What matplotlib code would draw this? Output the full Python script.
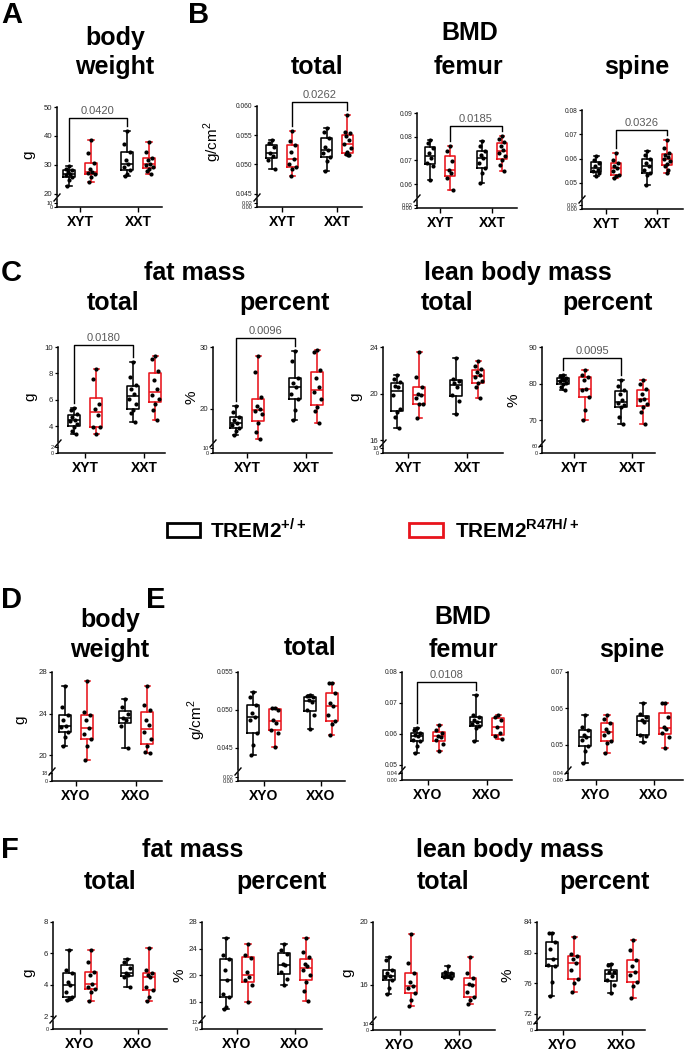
import matplotlib
matplotlib.use('Agg')
import matplotlib.pyplot as plt
from matplotlib.patches import Rectangle
from matplotlib.lines import Line2D

plt.rcParams['font.family'] = ['Liberation Sans', 'DejaVu Sans']
plt.rcParams['mathtext.fontset'] = 'custom'
plt.rcParams['mathtext.rm'] = 'Liberation Sans'
plt.rcParams['mathtext.bf'] = 'Liberation Sans:bold'

# group order in every list: XY TREM2+/+, XY R47H/+, XX TREM2+/+, XX R47H/+
young_groups = ['XYT', 'XXT']
old_groups = ['XYO', 'XXO']

young_body_weight = [
    [29.7, 28.7, 28.2, 27.6, 27.0, 26.4, 25.9, 24.7, 22.8],
    [38.7, 34.1, 30.7, 28.5, 27.6, 27.2, 26.8, 25.9, 24.1],
    [41.6, 37.4, 34.5, 31.6, 30.5, 29.3, 28.2, 27.0, 26.1],
    [37.9, 34.5, 32.5, 31.6, 30.5, 29.9, 29.3, 28.7, 27.9, 27.0]]
young_bmd_total = [
    [0.0541, 0.0537, 0.0530, 0.0520, 0.0515, 0.0508, 0.0492],
    [0.0557, 0.0540, 0.0533, 0.0522, 0.0510, 0.0500, 0.0495, 0.0492, 0.0480],
    [0.0562, 0.0555, 0.0545, 0.0530, 0.0525, 0.0520, 0.0512, 0.0506, 0.0488],
    [0.0585, 0.0555, 0.0553, 0.0548, 0.0542, 0.0535, 0.0528, 0.0522, 0.0518, 0.0517, 0.0516]]
young_bmd_femur = [
    [0.0787, 0.0773, 0.0752, 0.0731, 0.0710, 0.0689, 0.0675, 0.0618],
    [0.0759, 0.0738, 0.0696, 0.0661, 0.0646, 0.0625, 0.0576],
    [0.0780, 0.0759, 0.0738, 0.0724, 0.0710, 0.0689, 0.0668, 0.0646, 0.0604],
    [0.0801, 0.0790, 0.0776, 0.0759, 0.0745, 0.0731, 0.0717, 0.0703, 0.0682, 0.0654]]
young_bmd_spine = [
    [0.0609, 0.0595, 0.0582, 0.0568, 0.0554, 0.0548, 0.0541, 0.0527],
    [0.0625, 0.0595, 0.0582, 0.0568, 0.0561, 0.0548, 0.0534, 0.0527, 0.0520],
    [0.0632, 0.0616, 0.0598, 0.0582, 0.0571, 0.0554, 0.0541, 0.0534, 0.0493],
    [0.0675, 0.0643, 0.0625, 0.0616, 0.0606, 0.0598, 0.0589, 0.0579, 0.0568, 0.0554, 0.0541]]
young_fat_total = [
    [5.39, 5.19, 4.94, 4.68, 4.48, 4.38, 4.18, 3.92, 3.67, 3.42],
    [8.35, 7.59, 5.65, 5.32, 4.81, 3.97, 3.92, 3.42],
    [8.86, 7.72, 7.09, 6.84, 6.46, 6.08, 5.70, 5.19, 4.99, 4.30],
    [9.29, 9.11, 8.18, 7.47, 6.84, 6.33, 6.08, 5.70, 5.24, 4.43]]
young_fat_pct = [
    [20.4, 19.5, 18.6, 18.1, 17.7, 17.3, 16.8, 16.4, 15.7],
    [28.6, 25.9, 21.9, 20.5, 20.0, 19.7, 19.2, 17.6, 16.2, 15.1],
    [29.4, 27.8, 25.0, 24.1, 23.5, 22.4, 21.6, 19.8, 18.1],
    [29.5, 29.2, 26.3, 24.9, 23.5, 22.7, 21.6, 20.3, 19.6, 17.7]]
young_lean_total = [
    [21.6, 21.3, 21.0, 20.7, 20.6, 19.9, 18.7, 18.4, 18.0, 17.1],
    [23.6, 21.4, 20.6, 20.0, 19.9, 19.6, 19.1, 19.1, 17.9],
    [23.1, 21.3, 21.1, 20.9, 20.6, 19.9, 19.4, 18.3],
    [22.8, 22.4, 22.1, 21.9, 21.6, 21.4, 21.1, 20.9, 20.6, 19.6]]
young_lean_pct = [
    [82.5, 82.0, 81.6, 81.2, 80.9, 80.6, 80.2, 79.8, 79.1, 78.4],
    [83.6, 82.3, 81.8, 80.9, 78.6, 78.2, 76.4, 72.7, 70.0],
    [80.9, 79.5, 78.2, 77.3, 75.5, 74.7, 74.1, 73.6, 70.9, 69.1],
    [80.9, 80.0, 78.6, 77.3, 75.9, 75.5, 74.5, 73.6, 72.3, 69.1]]

old_body_weight = [
    [26.7, 24.6, 23.9, 23.4, 22.8, 22.7, 22.2, 21.8, 20.9],
    [27.1, 24.2, 23.9, 23.4, 22.6, 22.1, 21.6, 20.9, 19.6],
    [25.4, 24.6, 24.0, 23.6, 23.4, 22.8, 20.7],
    [26.7, 24.8, 24.4, 23.4, 22.9, 22.2, 21.6, 20.9, 20.3, 20.2]]
old_bmd_total = [
    [0.0524, 0.0517, 0.0507, 0.0496, 0.0491, 0.0487, 0.0470, 0.0454, 0.0441],
    [0.0503, 0.0503, 0.0500, 0.0487, 0.0483, 0.0474, 0.0470, 0.0451],
    [0.0520, 0.0519, 0.0517, 0.0513, 0.0511, 0.0500, 0.0493, 0.0475],
    [0.0536, 0.0535, 0.0522, 0.0509, 0.0505, 0.0493, 0.0485, 0.0482, 0.0467]]
old_bmd_femur = [
    [0.0619, 0.0614, 0.0603, 0.0598, 0.0593, 0.0582, 0.0577, 0.0561, 0.0539],
    [0.0630, 0.0614, 0.0603, 0.0595, 0.0590, 0.0582, 0.0569, 0.0545],
    [0.0726, 0.0662, 0.0654, 0.0646, 0.0640, 0.0633, 0.0627, 0.0619, 0.0577],
    [0.0662, 0.0656, 0.0646, 0.0624, 0.0603, 0.0593, 0.0584]]
old_bmd_spine = [
    [0.0582, 0.0550, 0.0541, 0.0527, 0.0523, 0.0514, 0.0497, 0.0482, 0.0450],
    [0.0582, 0.0570, 0.0559, 0.0545, 0.0536, 0.0527, 0.0512, 0.0505, 0.0477],
    [0.0615, 0.0585, 0.0577, 0.0568, 0.0564, 0.0527, 0.0525, 0.0509],
    [0.0615, 0.0614, 0.0577, 0.0550, 0.0545, 0.0532, 0.0521, 0.0491]]
old_fat_total = [
    [6.25, 4.95, 4.74, 4.21, 4.00, 3.58, 3.26, 3.09, 3.05],
    [6.21, 5.47, 4.84, 4.63, 4.06, 3.89, 3.73, 3.58, 3.01],
    [5.62, 5.47, 5.05, 4.74, 4.63, 4.48, 3.89],
    [6.32, 4.95, 4.74, 4.63, 4.53, 3.89, 3.68, 3.26, 3.01]]
old_fat_pct = [
    [25.65, 23.0, 22.5, 20.85, 19.35, 17.25, 16.75, 15.25, 15.0],
    [24.75, 23.0, 22.65, 20.5, 19.75, 19.25, 18.5, 16.0],
    [24.75, 23.85, 23.25, 21.65, 21.5, 20.5, 19.5, 18.5],
    [25.65, 23.5, 22.75, 21.75, 21.35, 20.75, 20.0, 19.0, 17.65, 16.15]]
old_lean_total = [
    [17.75, 17.58, 16.95, 16.74, 16.57, 16.48, 16.32, 15.79, 15.43],
    [19.22, 17.37, 16.74, 16.21, 15.94, 15.79, 15.47, 15.05, 14.67],
    [17.2, 16.84, 16.74, 16.63, 16.57, 16.48, 16.42],
    [17.79, 16.74, 16.42, 16.06, 16.0, 15.58, 15.26, 15.05, 14.8]]
old_lean_pct = [
    [82.6, 82.5, 81.4, 80.5, 79.2, 78.4, 78.2, 76.2, 74.3],
    [82.0, 79.8, 79.5, 79.1, 78.6, 77.7, 76.6, 76.0, 74.9],
    [78.5, 78.4, 77.5, 77.4, 76.9, 76.4, 75.8, 74.7],
    [81.6, 80.3, 79.0, 78.2, 77.5, 77.1, 76.2, 75.6, 74.0]]

W, H = 684, 1050
RED = '#e8141c'
fig = plt.figure(figsize=(W / 100, H / 100), dpi=100, facecolor='white')


def fx(x):
    return x / W


def fy(y):
    return 1 - y / H


def panel(box, groups, data, ylim, ticks, fmt, low, low_ticks, low_fmt,
          ylabel=None, ylabel_xy=None, bracket=None):
    # box: y-axis x, x-axis end, group centres, y of top tick, y of x-axis (pixels)
    x0, x1, t1, t2, ytop, ybot = box
    u = t2 - t1
    xl, xr = 1 - (t1 - x0) / u, 2 + (x1 - t2) / u
    ymb = ybot - 11
    lo, hi = ylim

    ax = fig.add_axes([fx(x0), fy(ymb), (x1 - x0) / W, (ymb - ytop) / H])
    ax.set_xlim(xl, xr)
    ax.set_ylim(lo, hi)
    ax.patch.set_alpha(0)
    for s in ['top', 'right', 'bottom']:
        ax.spines[s].set_visible(False)
    ax.spines['left'].set_linewidth(1.1)
    ax.set_xticks([])
    ax.set_yticks(ticks)
    ax.set_yticklabels([fmt % t for t in ticks])
    ax.tick_params(axis='y', length=2.5, width=0.9,
                   labelsize=5.6 if fmt == '%d' else 4.8, pad=1,
                   labelcolor='#222222')

    pos = [1 - 0.19, 1 + 0.19, 2 - 0.19, 2 + 0.19]
    cols = ['black', RED, 'black', RED]
    offs = [0, -0.05, 0.05, -0.025, 0.025, -0.06, 0.06, 0.0, -0.035, 0.035, 0.01]
    for d, p, c in zip(data, pos, cols):
        lp = dict(color=c, linewidth=1.15)
        ax.boxplot([d], positions=[p], widths=0.2, whis=(0, 100),
                   showfliers=False, manage_ticks=False, capwidths=0.09,
                   boxprops=lp, whiskerprops=lp, capprops=lp, medianprops=lp)
        srt = sorted(d, reverse=True)
        ax.scatter([p + offs[i % len(offs)] for i in range(len(srt))], srt,
                   s=9, color='black', zorder=4, clip_on=False, linewidths=0)

    if bracket:
        i, j, yb, label = bracket
        gap = 5 * (hi - lo) / (ymb - ytop)
        ax.plot([pos[i], pos[i], pos[j], pos[j]],
                [max(data[i]) + gap, yb, yb, max(data[j]) + gap],
                color='black', linewidth=1.0, clip_on=False)
        ax.annotate(label, ((pos[i] + pos[j]) / 2, yb), xytext=(0, 1.5),
                    textcoords='offset points', ha='center', va='bottom',
                    fontsize=8, color='#5a5a5a', annotation_clip=False)

    # compressed segment below the axis break
    lx = fig.add_axes([fx(x0), fy(ybot), (x1 - x0) / W, 8 / H])
    lx.set_xlim(xl, xr)
    lx.set_ylim(0, low)
    lx.patch.set_alpha(0)
    for s in ['top', 'right']:
        lx.spines[s].set_visible(False)
    lx.spines['left'].set_linewidth(1.1)
    lx.spines['bottom'].set_linewidth(1.1)
    lx.set_yticks(low_ticks)
    lx.set_yticklabels([low_fmt % t for t in low_ticks])
    lx.tick_params(axis='y', length=2, width=0.8, labelsize=4, pad=1,
                   labelcolor='#222222')
    lx.set_xticks([1, 2])
    lx.set_xticklabels(groups, fontsize=10, fontweight='bold')
    lx.tick_params(axis='x', length=3.5, width=1.0, pad=2)
    fig.add_artist(Line2D([fx(x0 - 3), fx(x0 + 3)], [fy(ybot - 6), fy(ybot - 13)],
                          transform=fig.transFigure, color='black', linewidth=1.0))

    if ylabel:
        fig.text(fx(ylabel_xy[0]), fy(ylabel_xy[1]), ylabel, rotation=90,
                 ha='center', va='center', fontsize=11)
    return ax


def title(x, y, s, size=18):
    fig.text(fx(x), fy(y), s, ha='center', va='center', fontsize=size,
             fontweight='bold')


def letter(x, y, s):
    fig.text(fx(x), fy(y), s, ha='left', va='center', fontsize=21,
             fontweight='bold')


# ---- A / B ----
letter(1, 15, 'A')
letter(188, 15, 'B')
title(115, 38, 'body')
title(115, 67, 'weight')
title(470, 33, 'BMD')
title(317, 67, 'total')
title(468, 67, 'femur')
title(637, 67, 'spine')

panel((57, 162, 80, 138, 107, 207), young_groups, young_body_weight,
      (19.3, 50), [20, 30, 40, 50], '%d', 20, [0, 10], '%d',
      'g', (28, 155), (0, 2, 46.2, '0.0420'))
panel((257, 362, 282, 337, 106, 207), young_groups, young_bmd_total,
      (0.0446, 0.060), [0.045, 0.050, 0.055, 0.060], '%.3f', 0.04, [0, 0.02], '%.2f',
      'g/cm$^2$', (213, 142), (1, 3, 0.0607, '0.0262'))
panel((417, 517, 440, 492, 113, 208), young_groups, young_bmd_femur,
      (0.0546, 0.09), [0.06, 0.07, 0.08, 0.09], '%.2f', 0.05, [0, 0.02], '%.2f',
      bracket=(1, 3, 0.0845, '0.0185'))
panel((582, 683, 606, 657, 110, 209), young_groups, young_bmd_spine,
      (0.0438, 0.08), [0.05, 0.06, 0.07, 0.08], '%.2f', 0.04, [0, 0.02], '%.2f',
      bracket=(1, 3, 0.0718, '0.0326'))

# ---- C ----
letter(1, 273, 'C')
title(195, 273, 'fat mass')
title(518, 273, 'lean body mass')
title(113, 303, 'total')
title(285, 303, 'percent')
title(447, 303, 'total')
title(608, 303, 'percent')

panel((58, 165, 85, 144, 347, 453), young_groups, young_fat_total,
      (2.8, 10), [4, 6, 8, 10], '%d', 2.8, [0, 2], '%d',
      'g', (30, 397), (0, 2, 10.15, '0.0180'))
panel((213, 332, 247, 306, 347, 453), young_groups, young_fat_pct,
      (14.6, 30), [20, 30], '%d', 14.6, [0, 10], '%d',
      '%', (192, 397), (0, 2, 31.5, '0.0096'))
panel((383, 503, 408, 467, 347, 453), young_groups, young_lean_total,
      (15.86, 24), [16, 20, 24], '%d', 15.8, [0, 10], '%d',
      'g', (355, 397))
panel((542, 655, 574, 632, 347, 453), young_groups, young_lean_pct,
      (64.1, 90), [70, 80, 90], '%d', 64, [0, 60], '%d',
      '%', (513, 400), (0, 2, 87.0, '0.0095'))

# ---- legend ----
fig.add_artist(Rectangle((fx(167), fy(537)), 33 / W, 14 / H, transform=fig.transFigure,
                         fill=False, edgecolor='black', linewidth=2))
fig.text(fx(210), fy(530), r'TREM2$^{\mathbf{+/+}}$', ha='left', va='center',
         fontsize=15, fontweight='bold')
fig.add_artist(Rectangle((fx(409), fy(537)), 34 / W, 14 / H, transform=fig.transFigure,
                         fill=False, edgecolor=RED, linewidth=2))
fig.text(fx(455), fy(530), r'TREM2$^{\mathbf{R47H/+}}$', ha='left', va='center',
         fontsize=15, fontweight='bold')

# ---- D / E ----
letter(1, 600, 'D')
letter(146, 600, 'E')
title(110, 620, 'body')
title(110, 650, 'weight')
title(463, 617, 'BMD')
title(310, 648, 'total')
title(463, 650, 'femur')
title(632, 650, 'spine')

panel((52, 162, 76, 136, 672, 781), old_groups, old_body_weight,
      (18.6, 28), [20, 24, 28], '%d', 18.6, [0, 18], '%d',
      'g', (20, 720))
panel((238, 345, 264, 321, 672, 781), old_groups, old_bmd_total,
      (0.0421, 0.055), [0.045, 0.050, 0.055], '%.3f', 0.042, [0, 0.02], '%.2f',
      'g/cm$^2$', (197, 720))
panel((402, 512, 428, 487, 672, 780), old_groups, old_bmd_femur,
      (0.0487, 0.08), [0.05, 0.06, 0.07, 0.08], '%.2f', 0.048, [0, 0.04], '%.2f',
      bracket=(0, 2, 0.0768, '0.0108'))
panel((568, 683, 596, 654, 672, 780), old_groups, old_bmd_spine,
      (0.0434, 0.07), [0.05, 0.06, 0.07], '%.2f', 0.043, [0, 0.04], '%.2f')

# ---- F ----
letter(1, 850, 'F')
title(193, 850, 'fat mass')
title(510, 850, 'lean body mass')
title(110, 882, 'total')
title(282, 882, 'percent')
title(443, 882, 'total')
title(605, 882, 'percent')

panel((53, 167, 80, 138, 922, 1029), old_groups, old_fat_total,
      (1.9, 8), [2, 4, 6, 8], '%d', 1.9, [0], '%d',
      'g', (28, 973))
panel((202, 322, 237, 295, 922, 1029), old_groups, old_fat_pct,
      (13.6, 28), [16, 20, 24, 28], '%d', 13.6, [0, 12], '%d',
      '%', (180, 975))
panel((373, 495, 400, 459, 922, 1030), old_groups, old_lean_total,
      (13.84, 20), [16, 20], '%d', 13.8, [0, 10], '%d',
      'g', (347, 973))
panel((537, 645, 563, 622, 922, 1030), old_groups, old_lean_pct,
      (71.3, 84), [72, 76, 80, 84], '%d', 71, [0, 60], '%d',
      '%', (507, 975))

fig.savefig('out.png', dpi=100, facecolor='white')
